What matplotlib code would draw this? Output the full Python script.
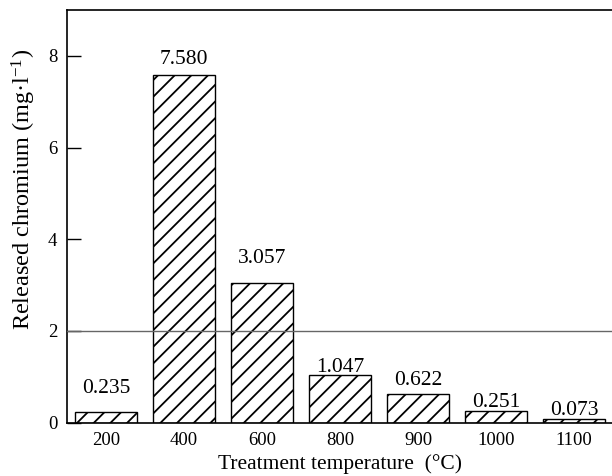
import matplotlib
matplotlib.use("Agg")
import matplotlib.pyplot as plt
import numpy as np

categories = ["200", "400", "600", "800", "900", "1000", "1100"]
values = [0.235, 7.580, 3.057, 1.047, 0.622, 0.251, 0.073]
value_labels = ["0.235", "7.580", "3.057", "1.047", "0.622", "0.251", "0.073"]
label_heights = [0.65, 7.83, 3.49, 1.11, 0.82, 0.34, 0.17]
yticks = [0, 2, 4, 6, 8]
ref_line = 2

plt.rcParams['font.family'] = ['Liberation Serif', 'DejaVu Serif']
plt.rcParams['mathtext.default'] = 'regular'
plt.rcParams['hatch.linewidth'] = 1.3

fig = plt.figure(figsize=(6.12, 4.76), dpi=100)
ax = fig.add_axes([67/612, 1 - 422.7/476, 1 - 67/612 + 0.002, (422.7 - 10)/476])

x = np.arange(len(categories))
ax.bar(x, values, width=0.8, color='white', edgecolor='black', linewidth=1.0, hatch='//', zorder=2)
ax.axhline(ref_line, color='#666666', linewidth=1.0, zorder=3)

for xi, lab, h in zip(x, value_labels, label_heights):
    ax.text(xi, h, lab, ha='center', va='baseline', fontsize=15.5)

ax.set_xlim(-0.5, 6.5)
ax.set_ylim(0, 9)
ax.set_xticks(x)
ax.set_xticklabels(categories)
ax.set_yticks(yticks)
ax.tick_params(axis='x', length=0, pad=6.5, labelsize=13.5)
ax.tick_params(axis='y', direction='in', length=10, width=1.0, pad=7, labelsize=13.5)
ax.spines['right'].set_visible(False)
for s in ['left', 'top', 'bottom']:
    ax.spines[s].set_linewidth(1.2)

ax.set_xlabel("Treatment temperature  (°C)", fontsize=15.5, labelpad=4)
ax.set_ylabel(r"Released chromium (mg·l$^{-1}$)", fontsize=17.5)
ax.yaxis.set_label_coords(-0.053, 0.565)

fig.savefig("out.png", dpi=100)
